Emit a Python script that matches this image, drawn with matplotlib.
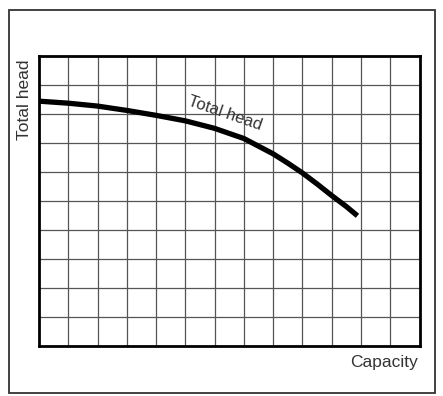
import matplotlib.pyplot as plt
from matplotlib.patches import Rectangle

plt.rcParams["font.family"] = ["Liberation Sans", "DejaVu Sans"]

# ----------------------------
# Pump curve (grid units)
# ----------------------------

capacity = [0, 1, 2, 3, 4, 5, 6, 7, 8, 8.5, 9, 9.5, 10, 10.5, 10.88]
head = [8.44, 8.37, 8.27, 8.12, 7.95, 7.76, 7.50, 7.15, 6.62, 6.30, 5.96, 5.58, 5.18, 4.80, 4.48]

n_cols = 13
n_rows = 10

W, H = 443, 396
fig = plt.figure(figsize=(W / 100, H / 100), dpi=100)
fig.patch.set_facecolor("white")

# outer frame
fig.patches.append(Rectangle((9 / W, 1 - 393 / H), (435 - 9) / W, (393 - 10) / H,
                             transform=fig.transFigure, fill=False,
                             edgecolor="#333333", linewidth=1.3))

left, right, top, bottom = 39, 419.5, 56, 345.5
ax = fig.add_axes([left / W, 1 - bottom / H, (right - left) / W, (bottom - top) / H])

ax.set_xlim(0, n_cols)
ax.set_ylim(0, n_rows)

for i in range(1, n_cols):
    ax.axvline(i, color="#555555", linewidth=0.9, zorder=1)
for j in range(1, n_rows):
    ax.axhline(j, color="#555555", linewidth=0.9, zorder=1)

ax.plot(capacity, head, color="black", linewidth=3.8,
        solid_capstyle="butt", solid_joinstyle="round", zorder=3)

ax.text(6.35, 8.02, "Total head", rotation=-19, fontsize=12, color="#333333",
        ha="center", va="center", rotation_mode="anchor")

ax.set_xticks([])
ax.set_yticks([])
for s in ax.spines.values():
    s.set_linewidth(2)
    s.set_color("black")

fig.text(25 / W, 1 - 100 / H, "Total head", rotation=90, fontsize=12.5,
         color="#333333", ha="center", va="center")
fig.text(418 / W, 1 - 362 / H, "Capacity", fontsize=12.5,
         color="#333333", ha="right", va="center")

plt.savefig("out.png", dpi=100)
